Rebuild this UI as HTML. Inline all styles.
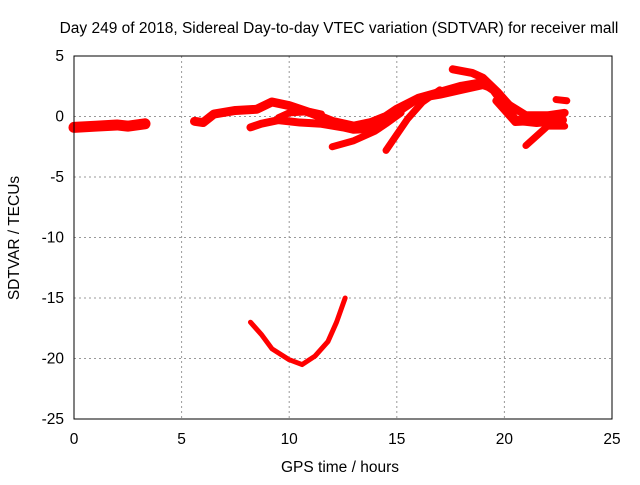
<!DOCTYPE html>
<html><head><meta charset="utf-8"><style>
body{margin:0;background:#fff}
text{font-family:"Liberation Sans",sans-serif;font-size:15.5px;fill:#000}
</style></head><body>
<svg id="chart" width="640" height="480" xmlns="http://www.w3.org/2000/svg">
<text x="339" y="33" text-anchor="middle">Day 249 of 2018, Sidereal Day-to-day VTEC variation (SDTVAR) for receiver mall</text>
<text x="340" y="472" text-anchor="middle">GPS time / hours</text>
<text transform="translate(19,238) rotate(-90)" text-anchor="middle">SDTVAR / TECUs</text>
<g id="grid"></g><g id="marks"></g>
<rect x="74" y="56" width="538" height="363" fill="none" stroke="#000" stroke-width="1"/>
</svg>
<script>
const xTicks=[0,5,10,15,20,25];
const yTicks=[5,0,-5,-10,-15,-20,-25];
const trackA=[[0,-0.9],[1,-0.8],[2,-0.7],[2.5,-0.8],[3.3,-0.6]];
const trackB=[[5.6,-0.4],[6,-0.5],[6.5,0.2],[7.5,0.5],[8.5,0.6],[9.2,1.2],[10,0.9],[11,0.3],[12,-0.4],[13,-0.8],[13.8,-0.5],[14.5,0],[15,0.6],[16,1.5],[17,2],[18,2.5],[19,2.8],[19.5,2.2],[20,1],[20.5,-0.3],[21.5,-0.5],[22.7,-0.3]];
const trackC=[[8.2,-0.9],[8.7,-0.6],[9.5,-0.3],[10.5,-0.5],[11.5,-0.6],[12.5,-0.9],[13,-1.1],[14,-1.0],[15,0.3],[16,1.5],[17,1.8],[18,2.2],[19,2.6],[19.5,2.3],[20,1.2],[21,0.1],[22,0.1],[22.8,0.3]];
const trackD=[[9.5,-0.1],[10,0.3],[11,0.4],[11.5,0.2]];
const trackE=[[12,-2.5],[13,-2.0],[14,-1.2],[14.5,-0.6],[15.2,0.3]];
const trackF=[[14.5,-2.8],[15,-1.5],[15.5,-0.2],[16.2,1.2],[17,2.2]];
const trackG=[[17.6,3.9],[18.5,3.6],[19,3.2],[19.7,2],[20.3,0.8]];
const trackH=[[21,-2.4],[21.5,-1.6],[22,-0.8],[22.8,-0.8]];
const trackI=[[22.4,1.4],[22.9,1.3]];
const trackJ=[[19.6,1.3],[20,0.5],[20.5,-0.5],[21.5,-0.4]];
const trackLow=[[8.2,-17],[8.7,-18],[9.2,-19.2],[10,-20.1],[10.6,-20.5],[11.2,-19.8],[11.8,-18.6],[12.2,-17],[12.6,-15]];
const NS="http://www.w3.org/2000/svg";
const X=v=>74+v*538/25, Y=v=>56+(5-v)*363/30;
const grid=document.getElementById('grid'), marks=document.getElementById('marks');
function mk(t,a,p){const e=document.createElementNS(NS,t);for(const k in a)e.setAttribute(k,a[k]);p.appendChild(e);return e;}
xTicks.forEach(t=>{
  if(t>0&&t<25){const g=mk('line',{x1:X(t),x2:X(t),y1:56,y2:419,stroke:'#999','stroke-dasharray':'2,3'},grid);
  
  }
  const l=mk('text',{x:X(t),y:444,'text-anchor':'middle'},grid);l.textContent=t;
  
  
});
yTicks.forEach(t=>{
  if(t>-25&&t<5){const g=mk('line',{x1:74,x2:612,y1:Y(t),y2:Y(t),stroke:'#999','stroke-dasharray':'2,3'},grid);
  
  }
  const l=mk('text',{x:64,y:Y(t)+5,'text-anchor':'end'},grid);l.textContent=t;
  
  
});
const tracks=[[trackA,11],[trackB,9],[trackC,8],[trackD,7],[trackE,7],[trackF,7],[trackG,8],[trackH,7],[trackI,7],[trackJ,7],[trackLow,5]];
tracks.forEach(([d,w])=>{
  const p=mk('polyline',{points:d.map(q=>X(q[0])+','+Y(q[1])).join(' '),fill:'none',stroke:'#f00','stroke-width':w,'stroke-linejoin':'round','stroke-linecap':'round'},marks);
  
  
});
</script>
</body></html>
